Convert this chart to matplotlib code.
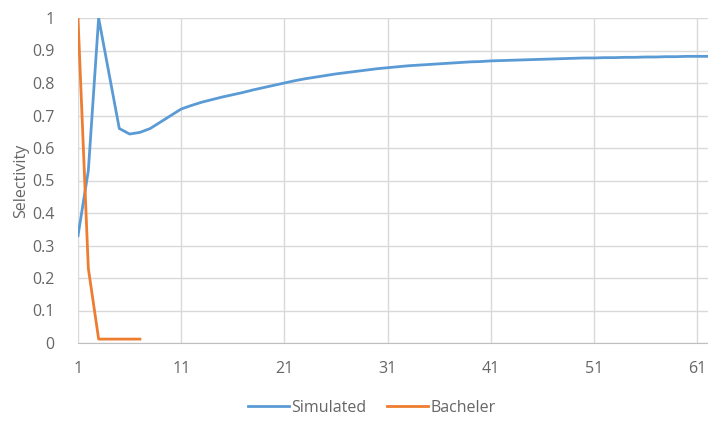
import matplotlib
matplotlib.use("Agg")
import matplotlib.pyplot as plt
import numpy as np

x_values = list(range(1, 63))
simulated = [0.33, 0.53, 1.0, 0.83, 0.66, 0.643, 0.648, 0.66, 0.68, 0.70,
             0.72, 0.731, 0.741, 0.749, 0.757, 0.764, 0.771, 0.779, 0.786, 0.793,
             0.800, 0.807, 0.813, 0.818, 0.823, 0.828, 0.832, 0.836, 0.840, 0.844,
             0.847, 0.850, 0.853, 0.855, 0.857, 0.859, 0.861, 0.863, 0.865, 0.866,
             0.868, 0.869, 0.870, 0.871, 0.872, 0.873, 0.874, 0.875, 0.876, 0.877,
             0.877, 0.878, 0.878, 0.879, 0.879, 0.880, 0.880, 0.881, 0.881, 0.882,
             0.882, 0.882]
bacheler = [1.0, 0.23, 0.012, 0.012, 0.012, 0.012, 0.012]
bacheler_x = x_values[:len(bacheler)]
x_ticks = [1, 11, 21, 31, 41, 51, 61]
y_ticks = [0, 0.1, 0.2, 0.3, 0.4, 0.5, 0.6, 0.7, 0.8, 0.9, 1]

plt.rcParams['font.family'] = ['Open Sans', 'DejaVu Sans']

fig = plt.figure(figsize=(7.08, 4.21), dpi=100)
ax = fig.add_axes([78/708, 1-343/421, (707.5-78)/708, (343-18)/421])

text_color = '#666666'
grid_color = '#d9d9d9'
fs = 11.5

ax.plot(x_values, simulated, color='#5B9BD5', lw=2.0, label='Simulated', solid_joinstyle='round')
ax.plot(bacheler_x, bacheler, color='#ED7D31', lw=2.0, label='Bacheler', solid_joinstyle='round')

ax.set_xlim(1, 62)
ax.set_ylim(0, 1)
ax.set_xticks(x_ticks)
ax.set_yticks(y_ticks)
ax.set_yticklabels([f'{v:g}' for v in y_ticks])
ax.grid(True, color=grid_color, lw=1)
ax.set_axisbelow(True)
for s in ['top', 'right', 'left']:
    ax.spines[s].set_visible(False)
ax.spines['bottom'].set_color('#bfbfbf')
ax.tick_params(axis='both', length=0, colors=text_color, labelsize=fs)
ax.tick_params(axis='x', pad=13)
ax.tick_params(axis='y', pad=17)
ax.set_ylabel('Selectivity', color=text_color, fontsize=fs, labelpad=2)

leg = fig.legend(loc='center', bbox_to_anchor=(0.525, 1-408/421), ncol=2, frameon=False,
                 fontsize=fs, handlelength=2.6, columnspacing=1.25, handletextpad=0.15)
for t in leg.get_texts():
    t.set_color(text_color)

fig.savefig('out.png', dpi=100)
